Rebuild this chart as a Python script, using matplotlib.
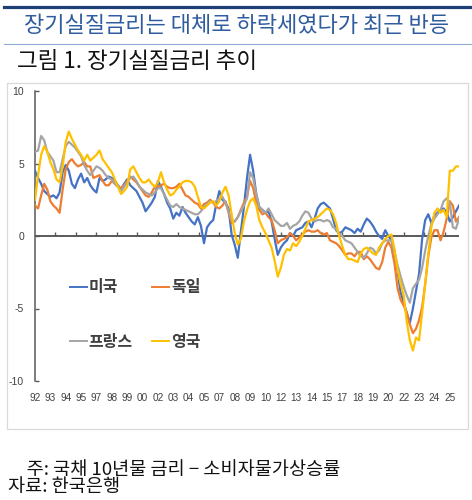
import matplotlib
matplotlib.use('Agg')
import matplotlib.pyplot as plt
from matplotlib.lines import Line2D
from matplotlib.patches import Rectangle

plt.rcParams['font.family'] = ['Noto Sans CJK KR', 'DejaVu Sans']

# ---------------- data ----------------
title = '장기실질금리는 대체로 하락세였다가 최근 반등'
subtitle = '그림 1. 장기실질금리 추이'
note1 = '주: 국채 10년물 금리 − 소비자물가상승률'
note2 = '자료: 한국은행'

series_names = ['미국', '독일', '프랑스', '영국']
series_colors = ['#4472C4', '#ED7D31', '#A5A5A5', '#FFC000']

# month index from Jan 1992, quarterly samples
months = list(range(0, 415, 3))

us = [4.5, 4.0, 3.6, 3.1, 2.9, 2.7, 2.8, 2.6, 3.0, 4.4,
      4.9, 4.5, 3.6, 3.3, 3.9, 4.3, 3.7, 4.0, 3.5, 3.2,
      3.0, 4.0, 3.8, 3.9, 4.1, 4.0, 3.8, 3.5, 3.2, 3.6,
      3.9, 3.5, 3.3, 3.1, 2.7, 2.3, 1.7, 2.0, 2.3, 2.7,
      3.8, 3.4, 2.9, 2.3, 1.9, 1.2, 1.6, 1.4, 2.0, 1.6,
      1.3, 1.0, 0.8, 1.3, 0.7, -0.5, 0.6, 0.9, 1.1, 2.2,
      3.1, 2.5, 2.3, 1.9, 0.1, -0.6, -1.5, 0.3, 2.0, 4.0,
      5.6, 4.5, 2.9, 2.0, 1.8, 1.6, 1.7, 1.0, -0.2, -1.3,
      -0.8, -0.5, -0.3, 0.2, 0.0, 0.4, 0.5, 0.6, 0.9, 1.0,
      0.6, 1.2, 1.9, 2.2, 2.3, 2.1, 1.9, 1.2, 0.4, 0.2,
      0.3, 0.6, 0.5, 0.4, 0.2, 0.5, 0.3, 0.8, 1.2, 1.0,
      0.7, 0.3, 0.0, -0.2, 0.4, 0.0, -0.3, -1.1, -2.4, -3.9,
      -4.6, -5.3, -6.0, -5.0, -3.8, -2.6, -0.2, 1.1, 1.5, 0.9,
      1.4, 1.6, 1.8, 1.9, 1.6, 1.0, 1.3, 1.7, 2.1]

germany = [2.1, 1.9, 2.8, 3.6, 3.2, 2.4, 2.1, 1.9, 1.6, 3.2,
           4.6, 5.1, 5.3, 5.0, 4.8, 4.9, 5.1, 4.8, 4.8, 4.0,
           4.1, 4.2, 3.8, 3.5, 3.5, 3.8, 3.6, 3.4, 3.3, 3.5,
           3.8, 4.1, 3.9, 3.7, 3.4, 3.1, 2.8, 2.7, 3.0, 3.4,
           3.4, 3.5, 3.6, 3.4, 3.3, 3.3, 3.4, 3.6, 3.2, 2.8,
           2.7, 2.5, 2.3, 2.2, 1.9, 2.2, 2.3, 2.5, 2.3, 2.0,
           1.9, 2.1, 2.4, 1.6, 0.9, 1.0, 1.3, 1.8, 2.3, 2.7,
           3.8, 3.3, 2.3, 1.8, 1.5, 1.6, 1.3, 1.1, 0.4, -0.5,
           -0.3, -0.2, -0.1, 0.2, 0.0, -0.3, -0.1, 0.1, 0.3, 0.4,
           0.3, 0.3, 0.4, 0.2, 0.1, 0.2, -0.3, -0.4, -0.5, -0.7,
           -1.0, -1.3, -1.2, -1.2, -1.4, -1.1, -1.1, -1.6, -1.4, -1.6,
           -1.9, -2.2, -2.3, -1.8, -0.8, -0.4, -0.8, -1.9, -3.6, -4.4,
           -4.8, -5.3, -6.1, -6.7, -6.4, -5.8, -4.9, -3.3, -1.4, -0.1,
           0.4, 0.4, -0.3, 0.3, 1.2, 2.4, 2.1, 1.0, 1.3]

france = [5.8, 5.9, 6.9, 6.6, 5.8, 5.5, 5.2, 4.4, 4.4, 5.3,
          6.2, 6.5, 6.3, 6.1, 5.8, 5.5, 4.9, 4.5, 4.2, 4.5,
          4.8, 4.7, 4.5, 4.2, 4.0, 3.9, 3.6, 3.4, 3.1, 3.4,
          3.7, 4.0, 4.1, 3.8, 3.4, 3.2, 3.0, 2.9, 2.8, 3.0,
          3.3, 3.3, 2.9, 2.5, 2.1, 2.0, 2.2, 2.0, 1.9, 1.8,
          1.7, 1.6, 1.5, 1.5, 1.7, 2.0, 2.2, 2.4, 2.3, 2.4,
          2.6, 2.7, 2.3, 1.7, 1.1, 1.0, 1.3, 1.7, 2.1, 2.6,
          4.4, 4.0, 2.9, 2.0, 1.8, 1.6, 1.9, 1.5, 1.1, 0.9,
          0.7, 0.7, 0.9, 0.5, 0.7, 0.8, 1.0, 1.4, 1.7, 1.6,
          1.2, 1.0, 1.1, 1.1, 1.0, 1.1, 1.0, 0.6, 0.5, 0.1,
          0.0, -0.3, -0.4, -0.5, -0.8, -1.1, -1.4, -1.5, -1.2, -0.8,
          -0.9, -1.2, -1.0, -0.5, -0.3, -0.3, -0.3, -1.1, -2.0, -2.8,
          -3.5, -4.1, -4.6, -3.6, -3.3, -3.0, -2.2, -1.0, 0.0, 0.8,
          1.2, 1.5, 1.8, 2.4, 2.6, 2.3, 0.6, 0.5, 1.2]

uk = [2.5, 4.2, 5.6, 6.2, 5.8, 5.1, 4.6, 3.9, 3.7, 4.8,
      6.5, 7.2, 6.7, 6.3, 5.9, 5.6, 5.2, 5.6, 5.2, 5.4,
      5.6, 5.9, 5.3, 5.0, 4.7, 4.4, 3.9, 3.4, 2.9, 3.1,
      3.4, 4.6, 4.8, 4.4, 4.0, 3.7, 3.7, 3.9, 3.6, 3.4,
      3.7, 4.4, 3.7, 3.2, 2.8, 2.9, 3.2, 3.4, 3.7, 3.8,
      3.8, 3.7, 3.4, 2.7, 2.0, 1.9, 2.1, 2.3, 2.4, 2.1,
      2.4, 3.0, 3.4, 2.8, 1.5, 0.2, -0.6, -0.2, 1.0, 1.8,
      2.4, 2.6, 2.1, 1.1, 0.6, 0.2, -0.3, -0.8, -1.7, -2.8,
      -2.2, -1.3, -0.9, -1.0, -0.5, -0.7, -0.4, 0.0, 0.5, 1.0,
      1.1, 1.2, 1.3, 1.5, 1.7, 1.9, 1.8, 1.5, 0.9, 0.0,
      -0.7, -1.3, -1.6, -1.6, -1.7, -1.8, -1.2, -0.9, -0.8, -1.0,
      -1.2, -1.3, -0.8, -0.5, -0.2, 0.0, 0.1, -0.9, -2.3, -3.3,
      -4.1, -5.9, -7.2, -7.9, -7.0, -7.2, -5.3, -3.3, -1.3, 0.6,
      1.6, 1.9, 1.6, 1.8, 1.3, 4.5, 4.5, 4.8, 4.8]

xlabel_pos = list(range(0, 406, 15))
xlabels = ['92', '93', '94', '95', '97', '98', '99', '00', '02', '03',
           '04', '05', '07', '08', '09', '10', '12', '13', '14', '15',
           '17', '18', '19', '20', '22', '23', '24', '25']
minor_tick_pos = list(range(20, 401, 20))
yticks = [-10, -5, 0, 5, 10]

# ---------------- figure ----------------
W, H = 472, 500
fig = plt.figure(figsize=(W / 100, H / 100), dpi=100)


def fx(px):
    return px / W


def fy(py):
    return 1 - py / H


fig.add_artist(Line2D([fx(4), 1], [fy(6.8), fy(6.8)], color='#1F3F77', lw=2.3))
fig.text(0.5, fy(26), title, ha='center', va='center', color='#2F5C9F', fontsize=15.9)
fig.add_artist(Line2D([fx(4), 1], [fy(43.5), fy(43.5)], color='#8FAAD3', lw=0.8))
fig.text(fx(17), fy(62), subtitle, ha='left', va='center', fontsize=16.2, color='#111111')

fig.add_artist(Rectangle((fx(7), fy(429)), fx(468) - fx(7), fy(83) - fy(429),
                         fill=False, edgecolor='#D9D9D9', lw=0.9))

ax = fig.add_axes([fx(35), fy(381), fx(459) - fx(35), fy(91) - fy(381)])

data = [us, germany, france, uk]
handles = []
for name, vals, col in zip(series_names, data, series_colors):
    h, = ax.plot(months, vals, color=col, lw=1.6, label=name, zorder=3)
    handles.append(h)

ax.axhline(0, color='#595959', lw=1.4, zorder=2)
ax.vlines(minor_tick_pos, 0, 0.25, color='#595959', lw=1.0, zorder=2)

ax.set_xlim(0, 414)
ax.set_ylim(-10, 10)
ax.set_yticks(yticks)
ax.set_yticklabels([str(v) for v in yticks])
ax.set_xticks(xlabel_pos)
ax.set_xticklabels(xlabels)
for lab in ax.get_xticklabels() + ax.get_yticklabels():
    lab.set_family(['Liberation Sans', 'DejaVu Sans'])
ax.tick_params(axis='x', length=0, pad=8.5, labelsize=7.2, labelcolor='#404040')
ax.tick_params(axis='y', direction='in', length=3, width=1.0, color='#595959',
               pad=8, labelsize=7.5, labelcolor='#404040')
for s in ['top', 'right', 'bottom']:
    ax.spines[s].set_visible(False)
ax.spines['left'].set_color('#595959')
ax.spines['left'].set_linewidth(1.1)
ax.patch.set_alpha(0)

order = [0, 2, 1, 3]
leg = ax.legend([handles[i] for i in order], [series_names[i] for i in order],
                ncol=2, loc='center', bbox_to_anchor=(fx(135), fy(314.5)),
                bbox_transform=fig.transFigure, frameon=False,
                handlelength=1.06, handletextpad=0.1, columnspacing=1.25,
                labelspacing=2.38, prop={'size': 11.5, 'weight': 'bold'})
for t in leg.get_texts():
    t.set_color('#404040')
for lh in leg.legend_handles:
    lh.set_linewidth(1.4)

fig.text(fx(8), fy(478.5), '\u3000' + note1 + '\n' + note2, ha='left', va='center',
         fontsize=13.4, color='#111111', linespacing=0.86)

fig.savefig('out.png', dpi=100)
